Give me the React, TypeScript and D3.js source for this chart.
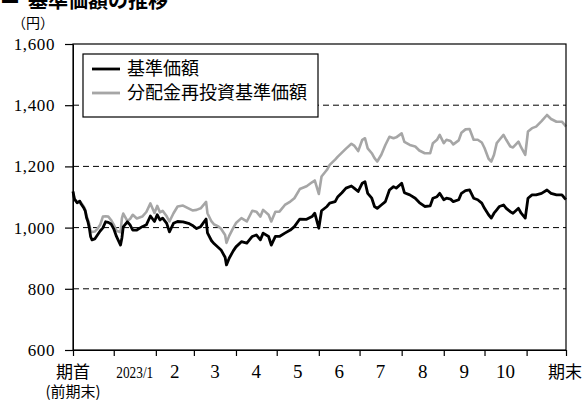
import { useEffect, useRef } from 'react';
import * as d3 from 'd3';

// =============================================================================
// Data
// =============================================================================

const DATES = [
  '2022-12-02', '2022-12-03', '2022-12-05', '2022-12-07', '2022-12-08', '2022-12-10', '2022-12-11',
  '2022-12-12', '2022-12-13', '2022-12-14', '2022-12-15', '2022-12-16', '2022-12-18', '2022-12-20',
  '2022-12-22', '2022-12-24', '2022-12-26', '2022-12-28', '2022-12-30',
  '2023-01-01', '2023-01-03', '2023-01-06', '2023-01-07', '2023-01-08', '2023-01-11', '2023-01-13',
  '2023-01-15', '2023-01-18', '2023-01-22', '2023-01-25', '2023-01-28', '2023-01-31',
  '2023-02-02', '2023-02-04', '2023-02-06', '2023-02-09', '2023-02-11', '2023-02-14', '2023-02-17',
  '2023-02-21', '2023-02-25', '2023-02-28',
  '2023-03-03', '2023-03-06', '2023-03-10', '2023-03-11', '2023-03-14', '2023-03-16', '2023-03-19',
  '2023-03-21', '2023-03-24', '2023-03-25', '2023-03-27', '2023-03-30',
  '2023-04-01', '2023-04-05', '2023-04-09', '2023-04-13', '2023-04-16', '2023-04-19', '2023-04-21',
  '2023-04-25', '2023-04-27', '2023-04-30',
  '2023-05-03', '2023-05-07', '2023-05-11', '2023-05-14', '2023-05-18', '2023-05-23', '2023-05-27',
  '2023-05-29',
  '2023-06-01', '2023-06-03', '2023-06-07', '2023-06-09', '2023-06-13', '2023-06-15', '2023-06-18',
  '2023-06-21', '2023-06-25', '2023-06-27', '2023-06-30',
  '2023-07-03', '2023-07-05', '2023-07-07', '2023-07-10', '2023-07-12', '2023-07-14', '2023-07-17',
  '2023-07-20', '2023-07-23', '2023-07-26', '2023-07-28',
  '2023-08-01', '2023-08-03', '2023-08-07', '2023-08-11', '2023-08-14', '2023-08-18', '2023-08-22',
  '2023-08-24', '2023-08-27', '2023-08-29',
  '2023-09-01', '2023-09-03', '2023-09-06', '2023-09-08', '2023-09-12', '2023-09-14', '2023-09-17',
  '2023-09-20', '2023-09-23', '2023-09-26', '2023-09-29',
  '2023-10-01', '2023-10-04', '2023-10-06', '2023-10-08', '2023-10-10', '2023-10-12', '2023-10-15',
  '2023-10-17', '2023-10-20', '2023-10-22', '2023-10-26', '2023-10-28', '2023-10-31',
  '2023-11-02', '2023-11-05', '2023-11-08', '2023-11-12', '2023-11-16', '2023-11-19', '2023-11-23',
  '2023-11-27', '2023-11-29', '2023-11-30',
];

// 基準価額
const NAV = [
  1118, 1094, 1081, 1086, 1077, 1064, 1055, 1032, 1019, 999, 970, 960, 963, 976, 989, 999, 1019, 1017, 1012,
  996, 971, 943, 966, 1002, 1019, 1009, 992, 992, 1003, 1009, 1038, 1020,
  1042, 1025, 1031, 1014, 986, 1014, 1020, 1019, 1014, 1007,
  997, 1003, 1028, 983, 957, 947, 935, 927, 903, 878, 900, 924,
  937, 954, 949, 971, 976, 960, 982, 971, 943, 971,
  971, 982, 992, 1003, 1028, 1027, 1036, 1047,
  998, 1055, 1069, 1080, 1085, 1101, 1114, 1129, 1136, 1129, 1118,
  1145, 1150, 1112, 1096, 1069, 1063, 1074, 1085, 1123, 1134, 1129,
  1145, 1114, 1107, 1096, 1082, 1069, 1071, 1096, 1101, 1112,
  1091, 1096, 1093, 1085, 1091, 1112, 1121, 1123, 1096, 1091, 1080,
  1063, 1042, 1031, 1047, 1058, 1069, 1074, 1063, 1052, 1047, 1063, 1047, 1031,
  1096, 1107, 1107, 1112, 1123, 1112, 1107, 1107, 1096, 1092,
];

// 分配金再投資基準価額
const NAV_REINVESTED = [
  1118, 1094, 1082, 1087, 1081, 1068, 1058, 1038, 1025, 1012, 989, 986, 987, 996, 1009, 1036, 1037, 1036, 1025,
  1010, 990, 985, 1030, 1046, 1022, 1028, 1042, 1030, 1036, 1051, 1079, 1048,
  1071, 1050, 1055, 1037, 1020, 1047, 1069, 1072, 1063, 1056,
  1058, 1063, 1084, 1047, 1020, 1010, 1004, 996, 976, 950, 973, 999,
  1015, 1031, 1020, 1055, 1052, 1036, 1058, 1042, 1020, 1052,
  1052, 1074, 1085, 1096, 1126, 1135, 1148, 1154,
  1110, 1167, 1189, 1205, 1222, 1232, 1245, 1258, 1274, 1268, 1250,
  1287, 1292, 1259, 1243, 1227, 1216, 1238, 1270, 1297, 1292, 1295,
  1308, 1280, 1270, 1265, 1252, 1243, 1243, 1276, 1287, 1303,
  1276, 1287, 1283, 1272, 1285, 1310, 1321, 1322, 1287, 1287, 1278,
  1260, 1225, 1216, 1238, 1276, 1287, 1303, 1287, 1265, 1262, 1281, 1262, 1238,
  1314, 1325, 1330, 1348, 1368, 1355, 1346, 1346, 1336, 1330,
];

const PERIOD = ['2022-12-02', '2023-11-30'];
const Y_TICKS = [600, 800, 1000, 1200, 1400, 1600];
const GRID_VALUES = [800, 1000, 1200, 1400];
const MONTH_LABELS = ['2023/1', '2', '3', '4', '5', '6', '7', '8', '9', '10'];
const SERIES_NAMES = ['基準価額', '分配金再投資基準価額'];

// =============================================================================
// Constants
// =============================================================================

const WIDTH = 586;
const HEIGHT = 402;
const MARGIN = { top: 44, right: 20, bottom: 52, left: 73 };
const JP_FONT = '"Noto Sans CJK JP", "Noto Sans", sans-serif';
const NUM_FONT = '"Liberation Serif", "DejaVu Serif", serif';
const GRAY = '#a6a6a6';

// =============================================================================
// Component
// =============================================================================

export default function App() {
  const svgRef = useRef<SVGSVGElement>(null);

  useEffect(() => {
    if (!svgRef.current) return;
    const svg = d3.select(svgRef.current);
    svg.selectAll('*').remove();

    const parse = d3.timeParse('%Y-%m-%d');
    const dates = DATES.map((d) => parse(d) as Date);
    const start = parse(PERIOD[0]) as Date;
    const end = parse(PERIOD[1]) as Date;

    const x = d3.scaleTime().domain([start, end]).range([MARGIN.left, WIDTH - MARGIN.right]);
    const y = d3.scaleLinear().domain([600, 1600]).range([HEIGHT - MARGIN.bottom, MARGIN.top]);

    // Title (partly cut off at the top of the picture)
    const title = svg.append('text')
      .attr('x', 0)
      .attr('y', 8)
      .attr('font-family', JP_FONT)
      .attr('font-weight', 'bold')
      .attr('font-size', '20px')
      .attr('fill', '#000');
    title.append('tspan').attr('dy', -5).text('■');
    title.append('tspan').attr('dx', 8).attr('dy', 5).text('基準価額の推移');

    // Unit
    svg.append('text')
      .attr('x', 33)
      .attr('y', 28)
      .attr('text-anchor', 'middle')
      .attr('font-family', JP_FONT)
      .attr('font-size', '14px')
      .text('（円）');

    // Grid lines
    GRID_VALUES.forEach((v) => {
      svg.append('line')
        .attr('x1', x.range()[0])
        .attr('x2', x.range()[1])
        .attr('y1', y(v))
        .attr('y2', y(v))
        .attr('stroke', '#000')
        .attr('stroke-width', 1)
        .attr('stroke-dasharray', '6,4');
    });

    // Series
    const line = d3.line<number>()
      .x((_, i) => x(dates[i]))
      .y((d) => y(d));

    svg.append('path')
      .datum(NAV_REINVESTED)
      .attr('d', line)
      .attr('fill', 'none')
      .attr('stroke', GRAY)
      .attr('stroke-width', 2.6)
      .attr('stroke-linejoin', 'round');

    svg.append('path')
      .datum(NAV)
      .attr('d', line)
      .attr('fill', 'none')
      .attr('stroke', '#000')
      .attr('stroke-width', 2.8)
      .attr('stroke-linejoin', 'round');

    // Frame
    svg.append('rect')
      .attr('x', x.range()[0])
      .attr('y', y(1600))
      .attr('width', x.range()[1] - x.range()[0])
      .attr('height', y(600) - y(1600))
      .attr('fill', 'none')
      .attr('stroke', '#000')
      .attr('stroke-width', 1.2);

    // Y axis
    const yAxis = d3.axisLeft(y)
      .tickValues(Y_TICKS)
      .tickSize(8)
      .tickSizeOuter(0)
      .tickPadding(10)
      .tickFormat((d) => d3.format(',')(d as number));

    const yg = svg.append('g')
      .attr('transform', `translate(${MARGIN.left},0)`)
      .call(yAxis);
    yg.select('.domain').attr('stroke', '#000');
    yg.selectAll('line').attr('stroke', '#000').attr('stroke-width', 1.2);
    yg.selectAll('text')
      .attr('fill', '#000')
      .attr('font-family', NUM_FONT)
      .attr('font-size', '17px')
      .attr('letter-spacing', '0.6px');

    // X axis (month boundaries)
    const monthStarts = d3.timeMonth.range(d3.timeMonth.ceil(start), end);
    const tickDates = [start, ...monthStarts, end];
    const xAxis = d3.axisBottom(x)
      .tickValues(tickDates)
      .tickSize(6)
      .tickSizeOuter(0)
      .tickFormat(() => '');

    const xg = svg.append('g')
      .attr('transform', `translate(0,${HEIGHT - MARGIN.bottom})`)
      .call(xAxis);
    xg.select('.domain').attr('stroke', '#000');
    xg.selectAll('line').attr('stroke', '#000').attr('stroke-width', 1.2);

    // X labels: centred inside each month
    const labelY = HEIGHT - MARGIN.bottom + 28;
    MONTH_LABELS.forEach((label, i) => {
      const mid = (x(monthStarts[i]) + x(monthStarts[i + 1])) / 2;
      const t = svg.append('text')
        .attr('x', mid)
        .attr('y', labelY)
        .attr('text-anchor', 'middle')
        .attr('font-family', NUM_FONT)
        .attr('font-size', '19px')
        .attr('fill', '#000')
        .text(label);
      if (i === 0) {
        t.attr('font-size', '16px')
          .attr('textLength', 37)
          .attr('lengthAdjust', 'spacingAndGlyphs');
      }
    });

    svg.append('text')
      .attr('x', x(start))
      .attr('y', labelY)
      .attr('text-anchor', 'middle')
      .attr('font-family', JP_FONT)
      .attr('font-size', '17px')
      .text('期首');

    svg.append('text')
      .attr('x', x(start))
      .attr('y', labelY + 19)
      .attr('text-anchor', 'middle')
      .attr('font-family', JP_FONT)
      .attr('font-size', '15px')
      .text('(前期末)');

    svg.append('text')
      .attr('x', x(end) - 1)
      .attr('y', labelY)
      .attr('text-anchor', 'middle')
      .attr('font-family', JP_FONT)
      .attr('font-size', '17px')
      .text('期末');

    // Legend
    const lg = svg.append('g');
    lg.append('rect')
      .attr('x', 83)
      .attr('y', 54)
      .attr('width', 235)
      .attr('height', 63)
      .attr('fill', '#fff')
      .attr('stroke', '#000')
      .attr('stroke-width', 1.2);

    const legendColors = ['#000', GRAY];
    SERIES_NAMES.forEach((name, i) => {
      const ly = 69 + i * 24;
      lg.append('line')
        .attr('x1', 92)
        .attr('x2', 120)
        .attr('y1', ly)
        .attr('y2', ly)
        .attr('stroke', legendColors[i])
        .attr('stroke-width', 2.8);
      lg.append('text')
        .attr('x', 127)
        .attr('y', ly + 6)
        .attr('font-family', JP_FONT)
        .attr('font-size', '18px')
        .attr('fill', '#000')
        .text(name);
    });
  }, []);

  return (
    <svg
      ref={svgRef}
      width={WIDTH}
      height={HEIGHT}
      style={{ position: 'absolute', left: 0, top: 0, background: '#fff' }}
    />
  );
}
